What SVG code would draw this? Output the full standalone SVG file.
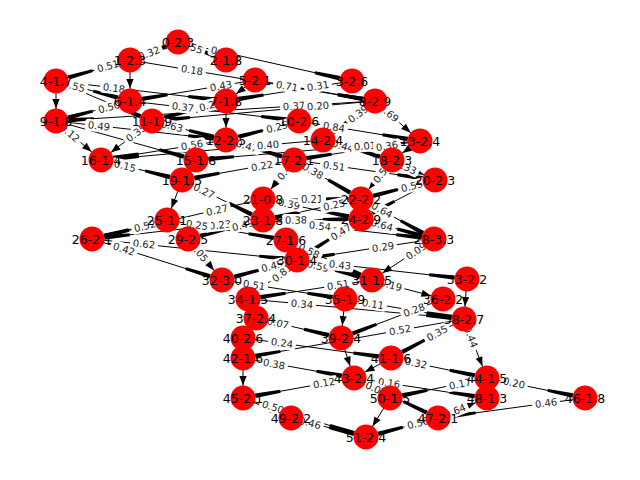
<svg xmlns="http://www.w3.org/2000/svg" width="640" height="480" viewBox="0 0 640 480">
<style>
.e line{stroke:#000;stroke-width:1;fill:none}
.b{marker-end:url(#bar)}
.t{marker-end:url(#tri)}
.lbl rect{fill:#fff;stroke:none}
.lbl text{font-family:"DejaVu Sans",Verdana,sans-serif;font-size:10px;text-anchor:middle;fill:#222}
.nd circle{fill:#ff0000}
.nd text{font-family:"DejaVu Sans",Verdana,sans-serif;font-size:12.5px;text-anchor:middle;fill:#000}
</style>
<defs>
<marker id="bar" markerUnits="userSpaceOnUse" orient="auto" refX="0" refY="0" markerWidth="60" markerHeight="10" overflow="visible"><path d="M-12.5,-2.2 L-12.5,2.2 L-38,1.5 L-38,-1.5 Z" fill="#000"/></marker>
<marker id="tri" markerUnits="userSpaceOnUse" orient="auto" refX="0" refY="0" markerWidth="30" markerHeight="10" overflow="visible"><path d="M-12.5,0 L-22,-3.6 L-22,3.6 Z" fill="#000"/></marker>
</defs>
<rect width="640" height="480" fill="#fff"/>
<g id="connectors" class="e">
<line class="b" x1="130" y1="60" x2="178" y2="42"/>
<line class="b" x1="178" y1="42" x2="226" y2="60"/>
<line class="b" x1="178" y1="42" x2="352" y2="81"/>
<line class="b" x1="130" y1="60" x2="56" y2="81"/>
<line class="b" x1="130" y1="60" x2="375" y2="101"/>
<line class="t" x1="130" y1="60" x2="130" y2="101"/>
<line class="t" x1="56" y1="81" x2="56" y2="121"/>
<line class="b" x1="56" y1="81" x2="130" y2="101"/>
<line class="b" x1="56" y1="81" x2="152" y2="121"/>
<line class="b" x1="56" y1="81" x2="226" y2="101"/>
<line class="b" x1="255" y1="80" x2="130" y2="101"/>
<line class="b" x1="255" y1="80" x2="375" y2="101"/>
<line class="b" x1="352" y1="81" x2="226" y2="101"/>
<line class="t" x1="255" y1="80" x2="226" y2="101"/>
<line class="b" x1="130" y1="101" x2="56" y2="121"/>
<line class="b" x1="130" y1="101" x2="299" y2="121"/>
<line class="b" x1="226" y1="101" x2="152" y2="121"/>
<line class="b" x1="375" y1="101" x2="56" y2="121"/>
<line class="b" x1="375" y1="101" x2="152" y2="121"/>
<line class="t" x1="226" y1="101" x2="226" y2="140"/>
<line class="b" x1="56" y1="121" x2="226" y2="140"/>
<line class="b" x1="56" y1="121" x2="196" y2="160"/>
<line class="t" x1="56" y1="121" x2="101" y2="160"/>
<line class="t" x1="152" y1="121" x2="101" y2="160"/>
<line class="b" x1="152" y1="121" x2="226" y2="140"/>
<line class="b" x1="226" y1="140" x2="101" y2="160"/>
<line class="b" x1="299" y1="121" x2="226" y2="140"/>
<line class="b" x1="299" y1="121" x2="420" y2="141"/>
<line class="t" x1="375" y1="101" x2="420" y2="141"/>
<line class="b" x1="375" y1="101" x2="323" y2="140"/>
<line class="b" x1="226" y1="140" x2="294" y2="160"/>
<line class="b" x1="323" y1="140" x2="101" y2="160"/>
<line class="b" x1="323" y1="140" x2="392" y2="160"/>
<line class="b" x1="420" y1="141" x2="196" y2="160"/>
<line class="b" x1="420" y1="141" x2="294" y2="160"/>
<line class="t" x1="420" y1="141" x2="392" y2="160"/>
<line class="b" x1="101" y1="160" x2="182" y2="180"/>
<line class="b" x1="294" y1="160" x2="182" y2="180"/>
<line class="t" x1="294" y1="160" x2="263" y2="199"/>
<line class="b" x1="294" y1="160" x2="361" y2="199"/>
<line class="b" x1="294" y1="160" x2="435" y2="180"/>
<line class="t" x1="392" y1="160" x2="435" y2="180"/>
<line class="t" x1="392" y1="160" x2="361" y2="199"/>
<line class="b" x1="435" y1="180" x2="361" y2="199"/>
<line class="b" x1="435" y1="180" x2="361" y2="219"/>
<line class="b" x1="182" y1="180" x2="263" y2="220"/>
<line class="t" x1="182" y1="180" x2="167" y2="220"/>
<line class="b" x1="263" y1="199" x2="92" y2="239"/>
<line class="b" x1="263" y1="199" x2="361" y2="219"/>
<line class="b" x1="263" y1="199" x2="361" y2="199"/>
<line class="b" x1="361" y1="199" x2="263" y2="220"/>
<line class="b" x1="361" y1="199" x2="434" y2="239"/>
<line class="b" x1="263" y1="220" x2="361" y2="219"/>
<line class="b" x1="263" y1="220" x2="434" y2="239"/>
<line class="b" x1="361" y1="219" x2="434" y2="239"/>
<line class="b" x1="361" y1="219" x2="297" y2="260"/>
<line class="b" x1="263" y1="220" x2="92" y2="239"/>
<line class="b" x1="263" y1="220" x2="188" y2="239"/>
<line class="b" x1="167" y1="220" x2="92" y2="239"/>
<line class="b" x1="167" y1="220" x2="286" y2="240"/>
<line class="b" x1="92" y1="239" x2="297" y2="260"/>
<line class="b" x1="92" y1="239" x2="222" y2="280"/>
<line class="t" x1="188" y1="239" x2="222" y2="280"/>
<line class="b" x1="286" y1="240" x2="372" y2="280"/>
<line class="b" x1="434" y1="239" x2="297" y2="260"/>
<line class="t" x1="434" y1="239" x2="372" y2="280"/>
<line class="b" x1="297" y1="260" x2="372" y2="280"/>
<line class="b" x1="297" y1="260" x2="467" y2="279"/>
<line class="b" x1="297" y1="260" x2="222" y2="280"/>
<line class="t" x1="297" y1="260" x2="248" y2="299"/>
<line class="b" x1="372" y1="280" x2="248" y2="299"/>
<line class="b" x1="222" y1="280" x2="345" y2="299"/>
<line class="t" x1="372" y1="280" x2="443" y2="299"/>
<line class="t" x1="467" y1="279" x2="464" y2="319"/>
<line class="b" x1="248" y1="299" x2="464" y2="319"/>
<line class="b" x1="345" y1="299" x2="464" y2="319"/>
<line class="b" x1="443" y1="299" x2="341" y2="338"/>
<line class="b" x1="464" y1="319" x2="243" y2="358"/>
<line class="b" x1="464" y1="319" x2="391" y2="358"/>
<line class="t" x1="464" y1="319" x2="487" y2="378"/>
<line class="t" x1="345" y1="299" x2="341" y2="338"/>
<line class="b" x1="256" y1="318" x2="341" y2="338"/>
<line class="b" x1="243" y1="338" x2="391" y2="358"/>
<line class="t" x1="341" y1="338" x2="354" y2="378"/>
<line class="b" x1="243" y1="358" x2="354" y2="378"/>
<line class="t" x1="243" y1="358" x2="243" y2="398"/>
<line class="t" x1="391" y1="358" x2="354" y2="378"/>
<line class="b" x1="391" y1="358" x2="487" y2="378"/>
<line class="b" x1="354" y1="378" x2="243" y2="398"/>
<line class="b" x1="354" y1="378" x2="487" y2="398"/>
<line class="b" x1="354" y1="378" x2="438" y2="418"/>
<line class="b" x1="487" y1="378" x2="585" y2="398"/>
<line class="b" x1="487" y1="378" x2="390" y2="398"/>
<line class="b" x1="585" y1="398" x2="438" y2="418"/>
<line class="t" x1="438" y1="418" x2="487" y2="398"/>
<line class="b" x1="438" y1="418" x2="366" y2="437"/>
<line class="b" x1="291" y1="418" x2="366" y2="437"/>
<line class="t" x1="390" y1="398" x2="366" y2="437"/>
<line class="t" x1="243" y1="398" x2="291" y2="418"/>
<line class="b" x1="243" y1="398" x2="366" y2="437"/>
</g>
<g id="edge-labels" class="lbl">
<g transform="translate(149,53) rotate(-20.6)"><rect x="-14" y="-6" width="28" height="12" rx="3"/><text y="3.6">0.32</text></g>
<g transform="translate(192,47) rotate(20.6)"><rect x="-14" y="-6" width="28" height="12" rx="3"/><text y="3.6">0.55</text></g>
<g transform="translate(222,52) rotate(12.6)"><rect x="-14" y="-6" width="28" height="12" rx="3"/><text y="3.6">0.58</text></g>
<g transform="translate(108,66) rotate(-15.8)"><rect x="-14" y="-6" width="28" height="12" rx="3"/><text y="3.6">0.51</text></g>
<g transform="translate(192,70) rotate(9.5)"><rect x="-14" y="-6" width="28" height="12" rx="3"/><text y="3.6">0.18</text></g>
<g transform="translate(74,86) rotate(15.1)"><rect x="-14" y="-6" width="28" height="12" rx="3"/><text y="3.6">0.55</text></g>
<g transform="translate(114,88) rotate(6.7)"><rect x="-14" y="-6" width="28" height="12" rx="3"/><text y="3.6">0.18</text></g>
<g transform="translate(221,86) rotate(-9.5)"><rect x="-14" y="-6" width="28" height="12" rx="3"/><text y="3.6">0.43</text></g>
<g transform="translate(287,86) rotate(9.9)"><rect x="-14" y="-6" width="28" height="12" rx="3"/><text y="3.6">0.71</text></g>
<g transform="translate(318,86) rotate(-9)"><rect x="-14" y="-6" width="28" height="12" rx="3"/><text y="3.6">0.31</text></g>
<g transform="translate(109,107) rotate(-15.1)"><rect x="-14" y="-6" width="28" height="12" rx="3"/><text y="3.6">0.50</text></g>
<g transform="translate(183,107) rotate(6.7)"><rect x="-14" y="-6" width="28" height="12" rx="3"/><text y="3.6">0.37</text></g>
<g transform="translate(210,105) rotate(-15.1)"><rect x="-14" y="-6" width="28" height="12" rx="3"/><text y="3.6">0.20</text></g>
<g transform="translate(294,106) rotate(-3.6)"><rect x="-14" y="-6" width="28" height="12" rx="3"/><text y="3.6">0.37</text></g>
<g transform="translate(318,106) rotate(-5.1)"><rect x="-14" y="-6" width="28" height="12" rx="3"/><text y="3.6">0.20</text></g>
<g transform="translate(99,126) rotate(6.4)"><rect x="-14" y="-6" width="28" height="12" rx="3"/><text y="3.6">0.49</text></g>
<g transform="translate(70,133) rotate(40.9)"><rect x="-14" y="-6" width="28" height="12" rx="3"/><text y="3.6">0.12</text></g>
<g transform="translate(136,133) rotate(-37.4)"><rect x="-14" y="-6" width="28" height="12" rx="3"/><text y="3.6">0.35</text></g>
<g transform="translate(172,126) rotate(14.4)"><rect x="-14" y="-6" width="28" height="12" rx="3"/><text y="3.6">0.63</text></g>
<g transform="translate(192,145) rotate(-9.1)"><rect x="-14" y="-6" width="28" height="12" rx="3"/><text y="3.6">0.56</text></g>
<g transform="translate(277,127) rotate(-14.6)"><rect x="-14" y="-6" width="28" height="12" rx="3"/><text y="3.6">0.25</text></g>
<g transform="translate(334,127) rotate(9.4)"><rect x="-14" y="-6" width="28" height="12" rx="3"/><text y="3.6">0.84</text></g>
<g transform="translate(389,113) rotate(41.6)"><rect x="-14" y="-6" width="28" height="12" rx="3"/><text y="3.6">0.69</text></g>
<g transform="translate(358,114) rotate(-36.9)"><rect x="-14" y="-6" width="28" height="12" rx="3"/><text y="3.6">0.39</text></g>
<g transform="translate(247,146) rotate(16.4)"><rect x="-14" y="-6" width="28" height="12" rx="3"/><text y="3.6">0.47</text></g>
<g transform="translate(268,145) rotate(-5.1)"><rect x="-14" y="-6" width="28" height="12" rx="3"/><text y="3.6">0.40</text></g>
<g transform="translate(343,146) rotate(16.2)"><rect x="-14" y="-6" width="28" height="12" rx="3"/><text y="3.6">0.44</text></g>
<g transform="translate(365,146) rotate(-4.8)"><rect x="-14" y="-6" width="28" height="12" rx="3"/><text y="3.6">0.01</text></g>
<g transform="translate(387,146) rotate(-8.6)"><rect x="-14" y="-6" width="28" height="12" rx="3"/><text y="3.6">0.36</text></g>
<g transform="translate(125,166) rotate(13.9)"><rect x="-14" y="-6" width="28" height="12" rx="3"/><text y="3.6">0.15</text></g>
<g transform="translate(262,166) rotate(-10.1)"><rect x="-14" y="-6" width="28" height="12" rx="3"/><text y="3.6">0.22</text></g>
<g transform="translate(286,170) rotate(-51.5)"><rect x="-14" y="-6" width="28" height="12" rx="3"/><text y="3.6">0.48</text></g>
<g transform="translate(313,171) rotate(30.2)"><rect x="-14" y="-6" width="28" height="12" rx="3"/><text y="3.6">0.38</text></g>
<g transform="translate(334,166) rotate(8.1)"><rect x="-14" y="-6" width="28" height="12" rx="3"/><text y="3.6">0.51</text></g>
<g transform="translate(406,167) rotate(24.9)"><rect x="-14" y="-6" width="28" height="12" rx="3"/><text y="3.6">0.33</text></g>
<g transform="translate(382,173) rotate(-51.5)"><rect x="-14" y="-6" width="28" height="12" rx="3"/><text y="3.6">0.53</text></g>
<g transform="translate(412,186) rotate(-14.4)"><rect x="-14" y="-6" width="28" height="12" rx="3"/><text y="3.6">0.55</text></g>
<g transform="translate(204,191) rotate(26.3)"><rect x="-14" y="-6" width="28" height="12" rx="3"/><text y="3.6">0.27</text></g>
<g transform="translate(217,210) rotate(-13.2)"><rect x="-14" y="-6" width="28" height="12" rx="3"/><text y="3.6">0.27</text></g>
<g transform="translate(289,204) rotate(11.5)"><rect x="-14" y="-6" width="28" height="12" rx="3"/><text y="3.6">0.39</text></g>
<g transform="translate(312,199)"><rect x="-14" y="-6" width="28" height="12" rx="3"/><text y="3.6">0.21</text></g>
<g transform="translate(334,205) rotate(-12.1)"><rect x="-14" y="-6" width="28" height="12" rx="3"/><text y="3.6">0.25</text></g>
<g transform="translate(382,210) rotate(28.7)"><rect x="-14" y="-6" width="28" height="12" rx="3"/><text y="3.6">0.64</text></g>
<g transform="translate(296,220) rotate(-0.6)"><rect x="-14" y="-6" width="28" height="12" rx="3"/><text y="3.6">0.38</text></g>
<g transform="translate(320,226) rotate(6.3)"><rect x="-14" y="-6" width="28" height="12" rx="3"/><text y="3.6">0.54</text></g>
<g transform="translate(382,225) rotate(15.3)"><rect x="-14" y="-6" width="28" height="12" rx="3"/><text y="3.6">0.64</text></g>
<g transform="translate(341,232) rotate(-32.6)"><rect x="-14" y="-6" width="28" height="12" rx="3"/><text y="3.6">0.47</text></g>
<g transform="translate(220,225) rotate(-6.3)"><rect x="-14" y="-6" width="28" height="12" rx="3"/><text y="3.6">0.23</text></g>
<g transform="translate(243,225) rotate(-14.2)"><rect x="-14" y="-6" width="28" height="12" rx="3"/><text y="3.6">0.49</text></g>
<g transform="translate(145,226) rotate(-14.2)"><rect x="-14" y="-6" width="28" height="12" rx="3"/><text y="3.6">0.52</text></g>
<g transform="translate(197,225) rotate(9.5)"><rect x="-14" y="-6" width="28" height="12" rx="3"/><text y="3.6">0.25</text></g>
<g transform="translate(144,244) rotate(5.8)"><rect x="-14" y="-6" width="28" height="12" rx="3"/><text y="3.6">0.62</text></g>
<g transform="translate(124,249) rotate(17.5)"><rect x="-14" y="-6" width="28" height="12" rx="3"/><text y="3.6">0.42</text></g>
<g transform="translate(199,252) rotate(50.3)"><rect x="-14" y="-6" width="28" height="12" rx="3"/><text y="3.6">0.05</text></g>
<g transform="translate(309,251) rotate(24.9)"><rect x="-14" y="-6" width="28" height="12" rx="3"/><text y="3.6">0.58</text></g>
<g transform="translate(383,247) rotate(-8.7)"><rect x="-14" y="-6" width="28" height="12" rx="3"/><text y="3.6">0.29</text></g>
<g transform="translate(416,251) rotate(-33.5)"><rect x="-14" y="-6" width="28" height="12" rx="3"/><text y="3.6">0.09</text></g>
<g transform="translate(318,266) rotate(14.9)"><rect x="-14" y="-6" width="28" height="12" rx="3"/><text y="3.6">0.59</text></g>
<g transform="translate(340,265) rotate(6.4)"><rect x="-14" y="-6" width="28" height="12" rx="3"/><text y="3.6">0.43</text></g>
<g transform="translate(272,266) rotate(-14.9)"><rect x="-14" y="-6" width="28" height="12" rx="3"/><text y="3.6">0.45</text></g>
<g transform="translate(282,273) rotate(-38.5)"><rect x="-14" y="-6" width="28" height="12" rx="3"/><text y="3.6">0.81</text></g>
<g transform="translate(338,285) rotate(-8.7)"><rect x="-14" y="-6" width="28" height="12" rx="3"/><text y="3.6">0.51</text></g>
<g transform="translate(254,285) rotate(8.8)"><rect x="-14" y="-6" width="28" height="12" rx="3"/><text y="3.6">0.51</text></g>
<g transform="translate(391,285) rotate(15)"><rect x="-14" y="-6" width="28" height="12" rx="3"/><text y="3.6">0.19</text></g>
<g transform="translate(302,304) rotate(5.3)"><rect x="-14" y="-6" width="28" height="12" rx="3"/><text y="3.6">0.34</text></g>
<g transform="translate(373,304) rotate(9.5)"><rect x="-14" y="-6" width="28" height="12" rx="3"/><text y="3.6">0.11</text></g>
<g transform="translate(414,310) rotate(-20.9)"><rect x="-14" y="-6" width="28" height="12" rx="3"/><text y="3.6">0.28</text></g>
<g transform="translate(400,330) rotate(-10)"><rect x="-14" y="-6" width="28" height="12" rx="3"/><text y="3.6">0.52</text></g>
<g transform="translate(437,333) rotate(-28.1)"><rect x="-14" y="-6" width="28" height="12" rx="3"/><text y="3.6">0.35</text></g>
<g transform="translate(471,337) rotate(68.7)"><rect x="-14" y="-6" width="28" height="12" rx="3"/><text y="3.6">0.44</text></g>
<g transform="translate(278,323) rotate(13.2)"><rect x="-14" y="-6" width="28" height="12" rx="3"/><text y="3.6">0.07</text></g>
<g transform="translate(282,343) rotate(7.7)"><rect x="-14" y="-6" width="28" height="12" rx="3"/><text y="3.6">0.24</text></g>
<g transform="translate(274,364) rotate(10.2)"><rect x="-14" y="-6" width="28" height="12" rx="3"/><text y="3.6">0.38</text></g>
<g transform="translate(416,363) rotate(11.8)"><rect x="-14" y="-6" width="28" height="12" rx="3"/><text y="3.6">0.32</text></g>
<g transform="translate(324,383) rotate(-10.2)"><rect x="-14" y="-6" width="28" height="12" rx="3"/><text y="3.6">0.12</text></g>
<g transform="translate(389,383) rotate(8.6)"><rect x="-14" y="-6" width="28" height="12" rx="3"/><text y="3.6">0.16</text></g>
<g transform="translate(376,389) rotate(25.5)"><rect x="-14" y="-6" width="28" height="12" rx="3"/><text y="3.6">0.07</text></g>
<g transform="translate(514,383) rotate(11.5)"><rect x="-14" y="-6" width="28" height="12" rx="3"/><text y="3.6">0.20</text></g>
<g transform="translate(460,384) rotate(-11.7)"><rect x="-14" y="-6" width="28" height="12" rx="3"/><text y="3.6">0.17</text></g>
<g transform="translate(546,403) rotate(-7.7)"><rect x="-14" y="-6" width="28" height="12" rx="3"/><text y="3.6">0.46</text></g>
<g transform="translate(455,411) rotate(-22.2)"><rect x="-14" y="-6" width="28" height="12" rx="3"/><text y="3.6">0.64</text></g>
<g transform="translate(418,423) rotate(-14.8)"><rect x="-14" y="-6" width="28" height="12" rx="3"/><text y="3.6">0.58</text></g>
<g transform="translate(310,423) rotate(14.2)"><rect x="-14" y="-6" width="28" height="12" rx="3"/><text y="3.6">0.46</text></g>
<g transform="translate(273,407) rotate(17.6)"><rect x="-14" y="-6" width="28" height="12" rx="3"/><text y="3.6">0.50</text></g>
</g>
<g id="node-0" class="nd"><circle cx="178" cy="42" r="12.5"/><text x="178" y="46.5">0-2.3</text></g>
<g id="node-1" class="nd"><circle cx="130" cy="60" r="12.5"/><text x="130" y="64.5">1-2.3</text></g>
<g id="node-2" class="nd"><circle cx="226" cy="60" r="12.5"/><text x="226" y="64.5">2-1.8</text></g>
<g id="node-3" class="nd"><circle cx="352" cy="81" r="12.5"/><text x="352" y="85.5">3-2.6</text></g>
<g id="node-4" class="nd"><circle cx="56" cy="81" r="12.5"/><text x="56" y="85.5">4-1.7</text></g>
<g id="node-5" class="nd"><circle cx="255" cy="80" r="12.5"/><text x="255" y="84.5">5-2.1</text></g>
<g id="node-6" class="nd"><circle cx="130" cy="101" r="12.5"/><text x="130" y="105.5">6-1.4</text></g>
<g id="node-7" class="nd"><circle cx="226" cy="101" r="12.5"/><text x="226" y="105.5">7-1.8</text></g>
<g id="node-8" class="nd"><circle cx="375" cy="101" r="12.5"/><text x="375" y="105.5">8-2.9</text></g>
<g id="node-9" class="nd"><circle cx="56" cy="121" r="12.5"/><text x="56" y="125.5">9-1.8</text></g>
<g id="node-10" class="nd"><circle cx="299" cy="121" r="12.5"/><text x="299" y="125.5">10-2.6</text></g>
<g id="node-11" class="nd"><circle cx="152" cy="121" r="12.5"/><text x="152" y="125.5">11-1.9</text></g>
<g id="node-12" class="nd"><circle cx="226" cy="140" r="12.5"/><text x="226" y="144.5">12-2.5</text></g>
<g id="node-13" class="nd"><circle cx="420" cy="141" r="12.5"/><text x="420" y="145.5">13-2.4</text></g>
<g id="node-14" class="nd"><circle cx="323" cy="140" r="12.5"/><text x="323" y="144.5">14-2.4</text></g>
<g id="node-15" class="nd"><circle cx="196" cy="160" r="12.5"/><text x="196" y="164.5">15-1.8</text></g>
<g id="node-16" class="nd"><circle cx="101" cy="160" r="12.5"/><text x="101" y="164.5">16-1.4</text></g>
<g id="node-17" class="nd"><circle cx="294" cy="160" r="12.5"/><text x="294" y="164.5">17-2.1</text></g>
<g id="node-18" class="nd"><circle cx="392" cy="160" r="12.5"/><text x="392" y="164.5">18-2.3</text></g>
<g id="node-19" class="nd"><circle cx="182" cy="180" r="12.5"/><text x="182" y="184.5">19-1.5</text></g>
<g id="node-20" class="nd"><circle cx="435" cy="180" r="12.5"/><text x="435" y="184.5">20-2.3</text></g>
<g id="node-21" class="nd"><circle cx="263" cy="199" r="12.5"/><text x="263" y="203.5">21-0.8</text></g>
<g id="node-22" class="nd"><circle cx="361" cy="199" r="12.5"/><text x="361" y="203.5">22-2.2</text></g>
<g id="node-23" class="nd"><circle cx="263" cy="220" r="12.5"/><text x="263" y="224.5">23-1.8</text></g>
<g id="node-24" class="nd"><circle cx="361" cy="219" r="12.5"/><text x="361" y="223.5">24-2.9</text></g>
<g id="node-25" class="nd"><circle cx="167" cy="220" r="12.5"/><text x="167" y="224.5">25-1.1</text></g>
<g id="node-26" class="nd"><circle cx="92" cy="239" r="12.5"/><text x="92" y="243.5">26-2.1</text></g>
<g id="node-27" class="nd"><circle cx="286" cy="240" r="12.5"/><text x="286" y="244.5">27-1.6</text></g>
<g id="node-28" class="nd"><circle cx="434" cy="239" r="12.5"/><text x="434" y="243.5">28-3.3</text></g>
<g id="node-29" class="nd"><circle cx="188" cy="239" r="12.5"/><text x="188" y="243.5">29-2.5</text></g>
<g id="node-30" class="nd"><circle cx="297" cy="260" r="12.5"/><text x="297" y="264.5">30-1.4</text></g>
<g id="node-31" class="nd"><circle cx="372" cy="280" r="12.5"/><text x="372" y="284.5">31-1.5</text></g>
<g id="node-32" class="nd"><circle cx="222" cy="280" r="12.5"/><text x="222" y="284.5">32-3.0</text></g>
<g id="node-33" class="nd"><circle cx="467" cy="279" r="12.5"/><text x="467" y="283.5">33-2.2</text></g>
<g id="node-34" class="nd"><circle cx="248" cy="299" r="12.5"/><text x="248" y="303.5">34-1.5</text></g>
<g id="node-35" class="nd"><circle cx="345" cy="299" r="12.5"/><text x="345" y="303.5">35-1.9</text></g>
<g id="node-36" class="nd"><circle cx="443" cy="299" r="12.5"/><text x="443" y="303.5">36-2.2</text></g>
<g id="node-37" class="nd"><circle cx="256" cy="318" r="12.5"/><text x="256" y="322.5">37-2.4</text></g>
<g id="node-38" class="nd"><circle cx="464" cy="319" r="12.5"/><text x="464" y="323.5">38-2.7</text></g>
<g id="node-39" class="nd"><circle cx="341" cy="338" r="12.5"/><text x="341" y="342.5">39-2.4</text></g>
<g id="node-40" class="nd"><circle cx="243" cy="338" r="12.5"/><text x="243" y="342.5">40-2.6</text></g>
<g id="node-41" class="nd"><circle cx="391" cy="358" r="12.5"/><text x="391" y="362.5">41-1.6</text></g>
<g id="node-42" class="nd"><circle cx="243" cy="358" r="12.5"/><text x="243" y="362.5">42-1.6</text></g>
<g id="node-43" class="nd"><circle cx="354" cy="378" r="12.5"/><text x="354" y="382.5">43-2.4</text></g>
<g id="node-44" class="nd"><circle cx="487" cy="378" r="12.5"/><text x="487" y="382.5">44-1.5</text></g>
<g id="node-45" class="nd"><circle cx="243" cy="398" r="12.5"/><text x="243" y="402.5">45-2.1</text></g>
<g id="node-46" class="nd"><circle cx="585" cy="398" r="12.5"/><text x="585" y="402.5">46-1.8</text></g>
<g id="node-47" class="nd"><circle cx="438" cy="418" r="12.5"/><text x="438" y="422.5">47-2.1</text></g>
<g id="node-48" class="nd"><circle cx="487" cy="398" r="12.5"/><text x="487" y="402.5">48-1.3</text></g>
<g id="node-49" class="nd"><circle cx="291" cy="418" r="12.5"/><text x="291" y="422.5">49-2.2</text></g>
<g id="node-50" class="nd"><circle cx="390" cy="398" r="12.5"/><text x="390" y="402.5">50-1.5</text></g>
<g id="node-51" class="nd"><circle cx="366" cy="437" r="12.5"/><text x="366" y="441.5">51-2.4</text></g>
</svg>
